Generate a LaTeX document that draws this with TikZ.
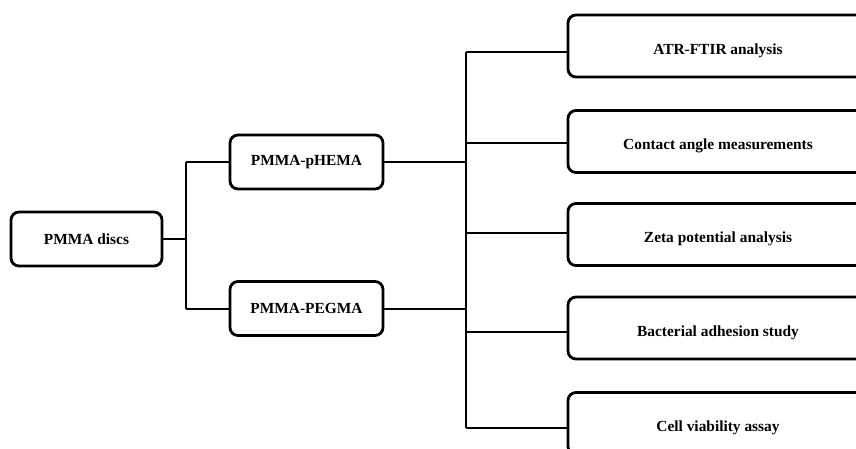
\documentclass[tikz,border=0pt]{standalone}
\usepackage{fontspec}
\setmainfont{Liberation Serif}
\begin{document}
\begin{tikzpicture}[x=1pt,y=-1pt,
  box/.style={draw=black, line width=2.8pt, rounded corners=8pt, fill=white,
    font=\fontsize{15.4}{18}\selectfont\bfseries, inner sep=0pt, align=center},
  conn/.style={draw=black, line width=2.8pt},
  leftbox/.style={box, minimum width=151pt, minimum height=54pt},
  midbox/.style={box, minimum width=153pt, minimum height=54pt},
  rightbox/.style={box, minimum width=300pt, minimum height=62pt, text height=16pt, text depth=0pt}]
\useasboundingbox (0,0) rectangle (856,448);
\clip (0,0) rectangle (856,448);

% bus coordinates
\coordinate (b0t) at (186,162);
\coordinate (b0b) at (186,309);
\coordinate (b0m) at (186,239);
\coordinate (r1) at (466,52);
\coordinate (r2) at (466,143);
\coordinate (r3) at (466,233);
\coordinate (r4) at (466,332);
\coordinate (r5) at (466,428);
\coordinate (rh) at (466,162);
\coordinate (rp) at (466,309);

% connectors (drawn first, boxes on top)
\draw[conn] (b0t) -- (b0b);
\draw[conn] (r1) -- (r5);

\node[leftbox] (discs) at (86.5,239) {PMMA discs};
\node[midbox] (phema) at (306.5,162) {PMMA-pHEMA};
\node[midbox] (pegma) at (306.5,308.5) {PMMA-PEGMA};

\node[rightbox] (a1) at (718,46) {ATR-FTIR analysis};
\node[rightbox] (a2) at (718,141.5) {Contact angle measurements};
\node[rightbox] (a3) at (718,234.5) {Zeta potential analysis};
\node[rightbox] (a4) at (718,328) {Bacterial adhesion study};
\node[rightbox] (a5) at (718,423.5) {Cell viability assay};

\draw[conn] (discs.east) -- (b0m);
\draw[conn] (b0t) -- (phema.west);
\draw[conn] (b0b) -- (b0b -| pegma.west);
\draw[conn] (phema.east) -- (rh);
\draw[conn] (pegma.east |- rp) -- (rp);
\draw[conn] (r1) -- (r1 -| a1.west);
\draw[conn] (r2) -- (r2 -| a2.west);
\draw[conn] (r3) -- (r3 -| a3.west);
\draw[conn] (r4) -- (r4 -| a4.west);
\draw[conn] (r5) -- (r5 -| a5.west);
\end{tikzpicture}
\end{document}
